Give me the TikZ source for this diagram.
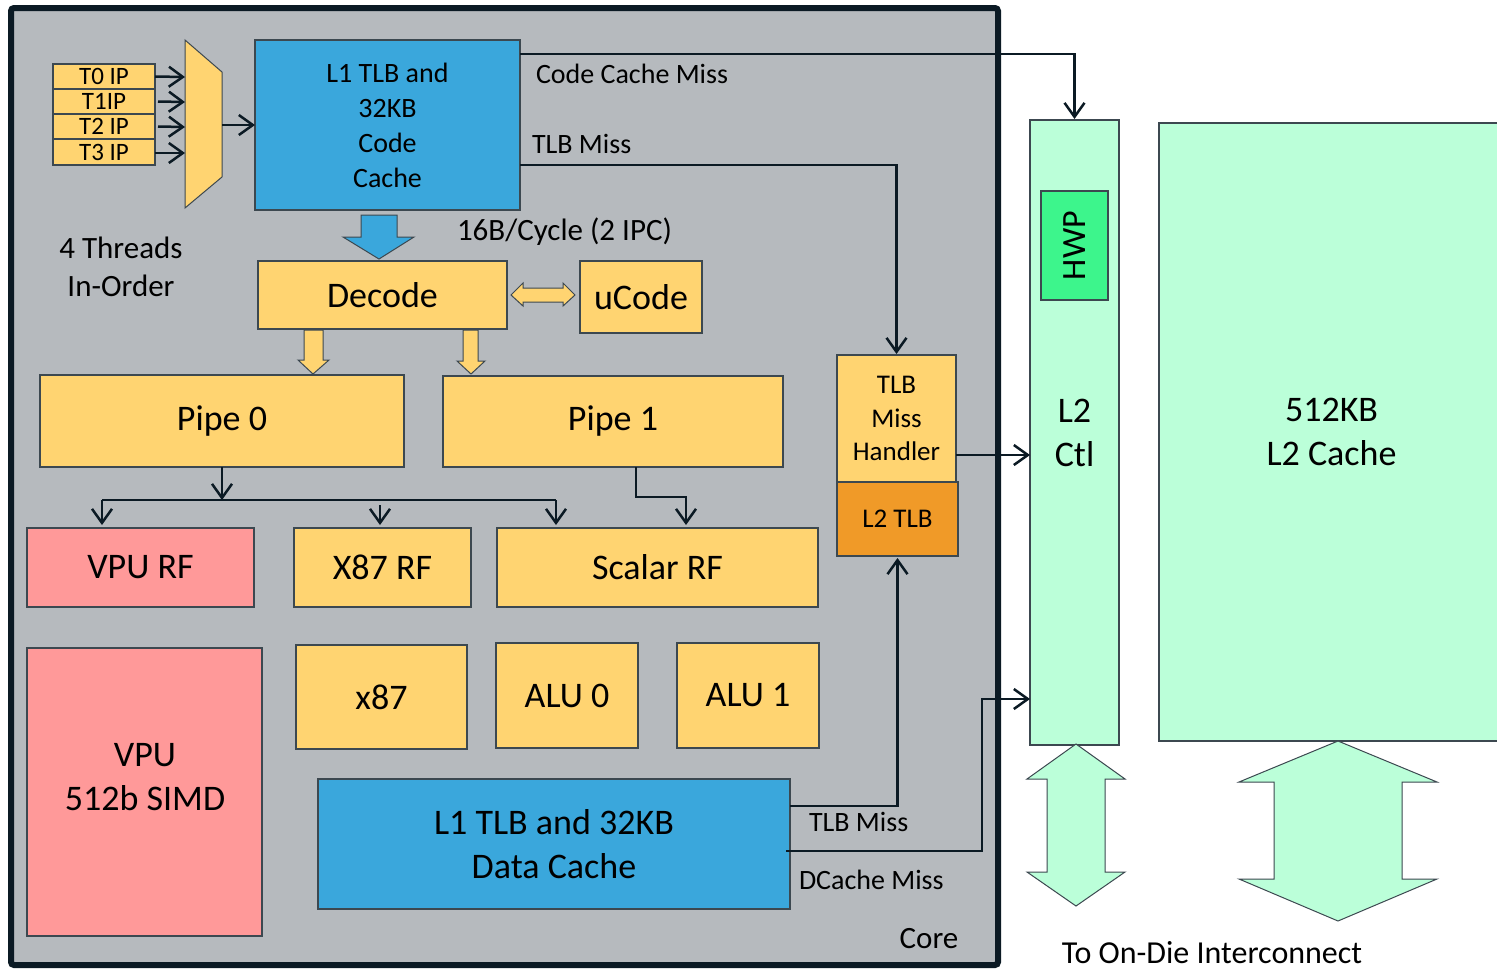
\documentclass[tikz,border=0pt]{standalone}
\usepackage{fontspec}
\setmainfont{Carlito}
\usetikzlibrary{arrows.meta}
\definecolor{coregray}{HTML}{B6BABE}
\definecolor{framec}{HTML}{0B1A24}
\definecolor{ylw}{HTML}{FFD471}
\definecolor{blu}{HTML}{3AA7DC}
\definecolor{pnk}{HTML}{FF9999}
\definecolor{org}{HTML}{F09A28}
\definecolor{mint}{HTML}{BBFFD9}
\definecolor{hwpg}{HTML}{3DF58C}
\definecolor{edgec}{HTML}{3C4850}
\begin{document}
\begin{tikzpicture}[x=1pt,y=-1pt,
  box/.style={draw=edgec, line width=1.2pt, inner sep=0pt, outer sep=0pt, anchor=north west, align=center},
  conn/.style={draw=framec, line width=2.5pt, -{Straight Barb[length=14pt,width=20pt]}},
  wire/.style={draw=framec, line width=2.5pt},
  blockarrow/.style={draw=edgec, line width=1pt, line join=miter},
  fbig/.style={font=\fontsize{36}{44}\selectfont},
  fmid/.style={font=\fontsize{32}{38}\selectfont},
  fsm/.style={font=\fontsize{28}{35}\selectfont},
  fip/.style={font=\fontsize{25}{25}\selectfont},
  lbl/.style={inner sep=0pt, outer sep=0pt, align=center}
]
\useasboundingbox (0,0) rectangle (1497,970);
\fill[white] (0,0) rectangle (1497,970);
% core frame
\draw[draw=framec, line width=6pt, fill=coregray, rounded corners=3pt] (11,8) rectangle (998,965);

% L2 side
\node[box, fill=mint, minimum width=345pt, minimum height=618pt, fbig] (l2c) at (1159,123) {512KB\\L2 Cache};
\node[box, fill=mint, minimum width=89pt, minimum height=625pt, fbig] (l2ctl) at (1030,120) {L2\\Ctl};
\node[box, fill=hwpg, minimum width=67pt, minimum height=109pt] (hwp) at (1041,191) {};
\node[lbl, rotate=90, font=\fontsize{34}{40}\selectfont] (hwpt) at (hwp.center) {HWP};

% double arrows to interconnect
\draw[blockarrow, fill=mint] (1076,744) -- (1125,779) -- (1105,779) -- (1105,872) -- (1125,872) -- (1076,906) -- (1027,872) -- (1047,872) -- (1047,779) -- (1027,779) -- cycle;
\draw[blockarrow, fill=mint] (1338,741) -- (1437,782) -- (1402,782) -- (1402,879) -- (1437,879) -- (1338,921) -- (1239,879) -- (1274,879) -- (1274,782) -- (1239,782) -- cycle;
\node[lbl, fmid] (ic) at (1212,953) {To On-Die Interconnect};

% thread IPs
\node[box, fill=ylw, minimum width=102pt, minimum height=25pt, fip] (ip0) at (53,64) {T0 IP};
\node[box, fill=ylw, minimum width=102pt, minimum height=25pt, fip] (ip1) at (53,89) {T1IP};
\node[box, fill=ylw, minimum width=102pt, minimum height=25pt, fip] (ip2) at (53,114) {T2 IP};
\node[box, fill=ylw, minimum width=102pt, minimum height=26pt, fip] (ip3) at (53,139) {T3 IP};
% mux
\draw[blockarrow, fill=ylw] (185,40) -- (222,72) -- (222,177) -- (185,208) -- cycle;
\coordinate (mux0) at (185,77);
\coordinate (mux1) at (185,102);
\coordinate (mux2) at (185,127);
\coordinate (mux3) at (185,153);
\coordinate (muxout) at (222,125);

% boxes
\node[box, fill=blu, minimum width=265pt, minimum height=170pt, fsm] (l1i) at (255,40) {L1 TLB and\\32KB\\Code\\Cache};
\node[box, fill=ylw, minimum width=249pt, minimum height=68pt, fbig] (decode) at (258,261) {Decode};
\node[box, fill=ylw, minimum width=122pt, minimum height=72pt, fbig] (ucode) at (580,261) {uCode};
\node[box, fill=ylw, minimum width=364pt, minimum height=92pt, fbig] (pipe0) at (40,375) {\raisebox{-3pt}{Pipe 0}};
\node[box, fill=ylw, minimum width=340pt, minimum height=91pt, fbig] (pipe1) at (443,376) {\raisebox{-3pt}{Pipe 1}};
\node[box, fill=pnk, minimum width=227pt, minimum height=79pt, fbig] (vpurf) at (27,528) {VPU RF};
\node[box, fill=ylw, minimum width=177pt, minimum height=79pt, fbig] (x87rf) at (294,528) {X87 RF};
\node[box, fill=ylw, minimum width=321pt, minimum height=79pt, fbig] (scalarrf) at (497,528) {Scalar RF};
\node[box, fill=pnk, minimum width=235pt, minimum height=288pt] (vpu) at (27,648) {};
\node[lbl, fbig] (vput) at (145,777) {VPU\\512b SIMD};
\node[box, fill=ylw, minimum width=171pt, minimum height=104pt, fbig] (x87) at (296,645) {x87};
\node[box, fill=ylw, minimum width=142pt, minimum height=105pt, fbig] (alu0) at (496,643) {ALU 0};
\node[box, fill=ylw, minimum width=142pt, minimum height=105pt, fbig] (alu1) at (677,643) {ALU 1};
\node[box, fill=blu, minimum width=472pt, minimum height=130pt, fbig] (l1d) at (318,779) {L1 TLB and 32KB\\Data Cache};
\node[box, fill=ylw, minimum width=119pt, minimum height=127pt, font=\fontsize{27}{33.5}\selectfont] (tmh) at (837,355) {TLB\\Miss\\Handler};
\node[box, fill=org, minimum width=121pt, minimum height=74pt, font=\fontsize{27}{33}\selectfont] (l2tlb) at (837,482) {L2 TLB};

% labels
\node[lbl, fsm, anchor=west] (lccm) at (536,74) {Code Cache Miss};
\node[lbl, fsm, anchor=west] (ltlbm) at (532,144) {TLB Miss};
\node[lbl, font=\fontsize{31}{36}\selectfont, anchor=west] (lbw) at (457,232) {16B/Cycle (2 IPC)};
\node[lbl, font=\fontsize{31}{38}\selectfont] (lthr) at (121,267) {4 Threads\\In-Order};
\node[lbl, fsm, anchor=west] (ldtlb) at (809,822) {TLB Miss};
\node[lbl, fsm, anchor=west] (ldcm) at (799,880) {DCache Miss};
\node[lbl, font=\fontsize{31}{36}\selectfont] (lcore) at (929,939) {Core};

% block arrows
\draw[blockarrow, fill=blu] (361,215) -- (397,215) -- (397,237) -- (414,237) -- (379,259) -- (343,237) -- (361,237) -- cycle;
\draw[blockarrow, fill=ylw] (511,295) -- (523,283) -- (523,288) -- (563,288) -- (563,283) -- (575,295) -- (563,306) -- (563,302) -- (523,302) -- (523,306) -- cycle;
\draw[blockarrow, fill=ylw] (304,330) -- (323,330) -- (323,360) -- (329,360) -- (313,374) -- (298,360) -- (304,360) -- cycle;
\draw[blockarrow, fill=ylw] (463,330) -- (478,330) -- (478,361) -- (485,361) -- (471,374) -- (457,361) -- (463,361) -- cycle;

% connectors
\draw[conn] (ip0.east) -- (mux0);
\draw[conn] ([xshift=3pt]ip1.east) -- (mux1);
\draw[conn] ([xshift=3pt]ip2.east) -- (mux2);
\draw[conn] (ip3.east |- mux3) -- (mux3);
\draw[conn] (muxout) -- (l1i.west);
\draw[conn] ([yshift=-14pt]l1i.north east) -| ([yshift=1pt]l2ctl.north);
\draw[conn] ([yshift=-125pt]l1i.north east) -| ([yshift=1pt]tmh.north);

\coordinate (busl) at (102,500);
\coordinate (busr) at (556,500);
\coordinate (x87top) at (380,505);
\draw[conn] (pipe0.south) -- ++(0,33);
\draw[wire] (busl) -- (busr);
\draw[conn] (busl) -- (busl |- 0,525);
\draw[conn] (busr) -- (busr |- 0,525);
\draw[conn] (x87top) -- (x87top |- 0,525);
\draw[conn] (pipe1.south -| 636,0) |- (686,497) -- (686,525);

\draw[conn] (tmh.east |- 0,455) -- (l2ctl.west |- 0,455);
\draw[conn] ([yshift=-27pt]l1d.north east) -| ([yshift=-2pt]l2tlb.south);
\draw[conn] ([xshift=-4pt,yshift=58pt]l1d.south east) -- (982,851) -- (982,699) -- (l2ctl.west |- 0,699);
\end{tikzpicture}
\end{document}
